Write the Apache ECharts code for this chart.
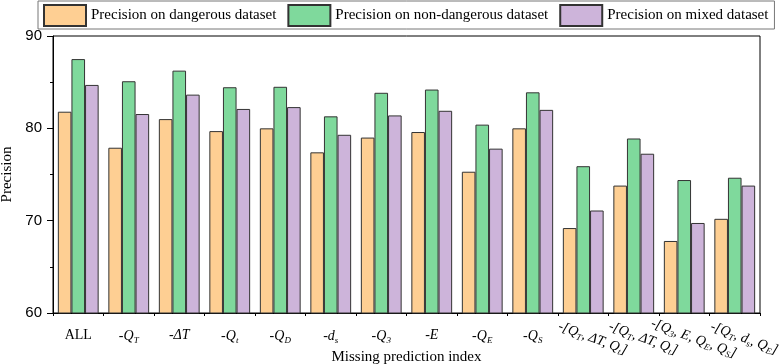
<!DOCTYPE html>
<html>
<head>
<meta charset="utf-8">
<script src="https://cdn.jsdelivr.net/npm/echarts@6/dist/echarts.min.js"></script>
<style>
html,body{margin:0;padding:0;background:#fff;}
#chart{width:782px;height:364px;}
</style>
</head>
<body>
<div id="chart"></div>
<script>
// ---- data ----
var categories = ['ALL', '-Q_T', '-ΔT', '-Q_t', '-Q_D', '-d_s', '-Q_3', '-E', '-Q_E', '-Q_S',
  '-[Q_T, ΔT, Q_t]', '-[Q_T, ΔT, Q_t] (2)', '-[Q_3, E, Q_E, Q_S]', '-[Q_T, d_s, Q_E]'];
var tickLabels = [
  '{n|ALL}',
  '{i|-Q}{s|T}',
  '{i|-ΔT}',
  '{i|-Q}{s|t}',
  '{i|-Q}{s|D}',
  '{i|-d}{s|s}',
  '{i|-Q}{s|3}',
  '{i|-E}',
  '{i|-Q}{s|E}',
  '{i|-Q}{s|S}',
  '{p|}{i|-[Q}{s|T}{i|, ΔT, Q}{s|t}{i|]}',
  '{p|}{i|-[Q}{s|T}{i|, ΔT, Q}{s|t}{i|]}',
  '{p|}{i|-[Q}{s|3}{i|, E, Q}{s|E}{i|, Q}{s|S}{i|]}',
  '{p|}{i|-[Q}{s|T}{i|, d}{s|s}{i|, Q}{s|E}{i|]}'
];
var seriesNames = ['Precision on dangerous dataset', 'Precision on non-dangerous dataset', 'Precision on mixed dataset'];
var dangerous    = [81.8, 77.9, 81.0, 79.7, 80.0, 77.4, 79.0, 79.6, 75.3, 80.0, 69.2, 73.8, 67.8, 70.2];
var nonDangerous = [87.5, 85.1, 86.25, 84.45, 84.5, 81.3, 83.85, 84.2, 80.4, 83.9, 75.9, 78.9, 74.4, 74.65];
var mixed        = [84.7, 81.55, 83.65, 82.1, 82.3, 79.3, 81.4, 81.9, 77.8, 82.0, 71.1, 77.25, 69.75, 73.8];
var yTicks = [60, 70, 80, 90];
var colors = ['#FECF93', '#7FD99C', '#CDB4DA'];

var serif = 'Liberation Serif';
var richStyles = {
  n: {fontFamily: serif, fontSize: 14, color: '#000'},
  i: {fontFamily: serif, fontSize: 14, fontStyle: 'italic', color: '#000'},
  s: {fontFamily: serif, fontSize: 9, fontStyle: 'italic', color: '#000', padding: [8, 0, 0, 0]},
  p: {width: 20}
};

var chart = echarts.init(document.getElementById('chart'), null, {renderer: 'canvas'});
var option = {
  animation: false,
  backgroundColor: '#fff',
  color: colors,
  legend: {
    data: seriesNames,
    left: 38, top: 1, width: 760,
    padding: [3, 6, 2, 5],
    itemWidth: 42, itemHeight: 21, itemGap: 11,
    icon: 'rect',
    borderColor: '#777', borderWidth: 1,
    textStyle: {fontFamily: serif, fontSize: 15, color: '#000'}
  },
  grid: {left: 53, right: 22, top: 36, bottom: 51, show: true, borderColor: '#000', borderWidth: 1,
         containLabel: false, outerBoundsMode: 'none'},
  xAxis: [{
    type: 'category',
    data: categories,
    position: 'bottom',
    name: 'Missing prediction index',
    nameLocation: 'middle',
    nameGap: 33,
    nameTextStyle: {fontFamily: serif, fontSize: 15, color: '#000'},
    axisLine: {lineStyle: {color: '#000', width: 1}},
    axisTick: {alignWithLabel: true, length: 6, lineStyle: {color: '#000'}},
    axisLabel: {
      interval: 0, margin: 15,
      formatter: function (v, idx) { return idx < 10 ? tickLabels[idx] : ''; },
      rich: richStyles
    },
    splitLine: {show: false}
  }, {
    type: 'category',
    data: categories,
    position: 'bottom',
    axisLine: {show: false},
    axisTick: {show: true, alignWithLabel: false, length: 3, interval: 0, lineStyle: {color: '#000'}},
    axisLabel: {
      interval: 0, rotate: -20, margin: 22, align: 'center', verticalAlign: 'middle',
      formatter: function (v, idx) { return idx >= 10 ? tickLabels[idx] : ''; },
      rich: richStyles
    },
    splitLine: {show: false}
  }],
  yAxis: {
    type: 'value',
    min: yTicks[0], max: yTicks[yTicks.length - 1], interval: 10,
    name: 'Precision',
    nameLocation: 'middle',
    nameGap: 38,
    nameTextStyle: {fontFamily: serif, fontSize: 15, color: '#000'},
    axisLine: {show: true, lineStyle: {color: '#000', width: 1}},
    axisTick: {show: true, length: 6, lineStyle: {color: '#000'}},
    minorTick: {show: true, splitNumber: 2, length: 3, lineStyle: {color: '#000'}},
    axisLabel: {fontFamily: 'Liberation Sans', fontSize: 15, color: '#000', margin: 11},
    splitLine: {show: false}
  },
  series: [
    {name: seriesNames[0], type: 'bar', data: dangerous, barWidth: 13.6, barGap: '0%',
     itemStyle: {color: colors[0], borderColor: '#333', borderWidth: 1}},
    {name: seriesNames[1], type: 'bar', data: nonDangerous, barWidth: 13.6, barGap: '0%',
     itemStyle: {color: colors[1], borderColor: '#333', borderWidth: 1}},
    {name: seriesNames[2], type: 'bar', data: mixed, barWidth: 13.6, barGap: '0%',
     itemStyle: {color: colors[2], borderColor: '#333', borderWidth: 1}}
  ]
};
chart.setOption(option);
</script>
</body>
</html>
